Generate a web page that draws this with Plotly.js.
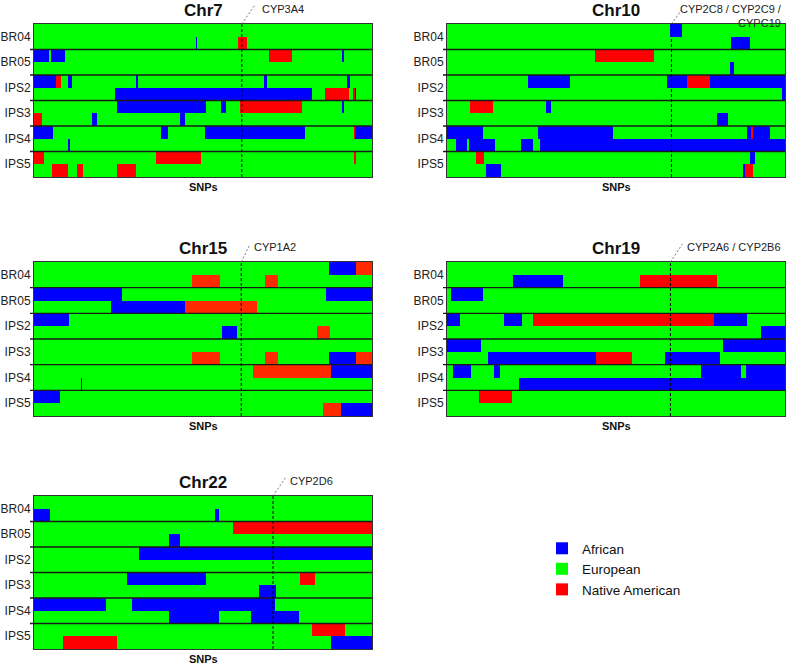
<!DOCTYPE html>
<html><head><meta charset="utf-8">
<script src="https://cdn.plot.ly/plotly-3.0.1.min.js"></script>
<style>html,body{margin:0;padding:0;background:#fff}#chart{width:787px;height:665px}</style>
</head><body><div id="chart"></div>
<script>
// ---------------- data ----------------
const samples = ['BR04', 'BR05', 'IPS2', 'IPS3', 'IPS4', 'IPS5'];
const chromosomes = ['Chr7', 'Chr10', 'Chr15', 'Chr19', 'Chr22'];
const geneLabels = ['CYP3A4', 'CYP2C8 / CYP2C9 /<br>CYPC19', 'CYP1A2', 'CYP2A6 / CYP2B6', 'CYP2D6'];
const genePos = [61.5, 66.4, 61.3, 66.1, 70.7];          // % along SNP axis
const ancestryNames = {AFR: 'African', EUR: 'European', NAT: 'Native American'};
const snpRange = [0, 100];

// segments: [sample, haplotype (1 = top, 2 = bottom), start %, end %, ancestry]; rest is European
const chr7Segments = [
  ['BR04',2,47.8,48.1,'AFR'], ['BR04',2,60.3,63.1,'NAT'],
  ['BR05',1,0,4.4,'AFR'], ['BR05',1,5.0,9.1,'AFR'], ['BR05',1,69.5,76.4,'NAT'], ['BR05',1,91.0,91.8,'AFR'],
  ['IPS2',1,0,6.4,'AFR'], ['IPS2',1,6.4,8.1,'NAT'], ['IPS2',1,10.0,11.2,'AFR'], ['IPS2',1,30.1,30.9,'AFR'], ['IPS2',1,67.9,69.0,'AFR'], ['IPS2',1,92.5,93.5,'AFR'],
  ['IPS2',2,23.9,82.2,'AFR'], ['IPS2',2,86.0,93.1,'NAT'], ['IPS2',2,94.4,95.0,'NAT'], ['IPS2',2,95.0,95.4,'AFR'],
  ['IPS3',1,24.5,50.8,'AFR'], ['IPS3',1,55.4,56.7,'AFR'], ['IPS3',1,60.8,79.2,'NAT'], ['IPS3',1,91.0,91.8,'AFR'],
  ['IPS3',2,0,2.5,'NAT'], ['IPS3',2,17.2,18.5,'AFR'], ['IPS3',2,43.3,44.8,'AFR'],
  ['IPS4',1,0,5.5,'AFR'], ['IPS4',1,37.5,39.5,'AFR'], ['IPS4',1,50.7,80.3,'AFR'], ['IPS4',1,94.7,95.0,'NAT'], ['IPS4',1,95.0,100,'AFR'],
  ['IPS4',2,10.0,10.7,'AFR'],
  ['IPS5',1,0,2.9,'NAT'], ['IPS5',1,36.2,49.5,'NAT'], ['IPS5',1,94.7,95.4,'NAT'],
  ['IPS5',2,5.2,10.0,'NAT'], ['IPS5',2,12.6,14.6,'NAT'], ['IPS5',2,24.5,30.3,'NAT']
];
const chr10Segments = [
  ['BR04',1,66.1,69.5,'AFR'], ['BR04',2,84.0,89.6,'AFR'],
  ['BR05',1,43.8,61.3,'NAT'], ['BR05',2,83.8,84.9,'AFR'],
  ['IPS2',1,24.1,36.4,'AFR'], ['IPS2',1,65.1,71.0,'AFR'], ['IPS2',1,71.0,77.7,'NAT'], ['IPS2',1,77.7,100,'AFR'], ['IPS2',2,99.0,100,'AFR'],
  ['IPS3',1,6.8,13.7,'NAT'], ['IPS3',1,29.2,30.8,'AFR'], ['IPS3',2,80.0,83.0,'AFR'],
  ['IPS4',1,0,10.7,'AFR'], ['IPS4',1,26.8,49.2,'AFR'], ['IPS4',1,88.8,90.0,'AFR'], ['IPS4',1,90.0,90.4,'NAT'], ['IPS4',1,90.4,95.6,'AFR'],
  ['IPS4',2,2.8,5.9,'AFR'], ['IPS4',2,6.4,14.2,'AFR'], ['IPS4',2,21.8,25.4,'AFR'], ['IPS4',2,27.4,100,'AFR'],
  ['IPS5',1,8.7,10.9,'NAT'], ['IPS5',1,89.7,91.1,'AFR'],
  ['IPS5',2,11.6,16.1,'AFR'], ['IPS5',2,87.6,88.2,'AFR'], ['IPS5',2,88.2,90.4,'NAT']
];
const chr15Segments = [
  ['BR04',1,87.3,95.4,'AFR'], ['BR04',1,95.4,100,'NAT'], ['BR04',2,46.7,54.9,'NAT'], ['BR04',2,68.3,72.3,'NAT'],
  ['BR05',1,0,25.9,'AFR'], ['BR05',1,86.3,100,'AFR'], ['BR05',2,22.7,44.8,'AFR'], ['BR05',2,44.8,66.0,'NAT'],
  ['IPS2',1,0,10.4,'AFR'], ['IPS2',2,55.7,60.2,'AFR'], ['IPS2',2,83.8,87.6,'NAT'],
  ['IPS3',2,46.7,54.9,'NAT'], ['IPS3',2,68.3,72.3,'NAT'], ['IPS3',2,87.3,95.4,'AFR'], ['IPS3',2,95.4,100,'NAT'],
  ['IPS4',1,64.8,87.8,'NAT'], ['IPS4',1,87.8,100,'AFR'], ['IPS4',2,13.8,14.2,'AFR'],
  ['IPS5',1,0,7.8,'AFR'], ['IPS5',2,85.5,90.9,'NAT'], ['IPS5',2,90.9,100,'AFR']
];
const chr19Segments = [
  ['BR04',2,19.5,34.4,'AFR'], ['BR04',2,57.2,79.9,'NAT'],
  ['BR05',1,1.3,10.6,'AFR'],
  ['IPS2',1,0,3.9,'AFR'], ['IPS2',1,16.9,22.1,'AFR'], ['IPS2',1,25.3,79.1,'NAT'], ['IPS2',1,79.1,88.9,'AFR'], ['IPS2',2,93.0,100,'AFR'],
  ['IPS3',1,0,10.0,'AFR'], ['IPS3',1,81.6,100,'AFR'], ['IPS3',2,12.0,44.2,'AFR'], ['IPS3',2,44.2,54.8,'NAT'], ['IPS3',2,64.6,80.8,'AFR'],
  ['IPS4',1,1.9,7.2,'AFR'], ['IPS4',1,13.8,15.8,'AFR'], ['IPS4',1,75.2,86.9,'AFR'], ['IPS4',1,88.5,100,'AFR'], ['IPS4',2,21.4,100,'AFR'],
  ['IPS5',1,9.5,19.2,'NAT']
];
const chr22Segments = [
  ['BR04',2,0,4.6,'AFR'], ['BR04',2,53.6,54.6,'AFR'],
  ['BR05',1,58.8,100,'NAT'], ['BR05',2,39.9,43.2,'AFR'],
  ['IPS2',1,31.1,100,'AFR'],
  ['IPS3',1,27.4,51.0,'AFR'], ['IPS3',1,78.7,83.1,'NAT'], ['IPS3',2,66.5,71.7,'AFR'],
  ['IPS4',1,0,21.4,'AFR'], ['IPS4',1,28.9,71.4,'AFR'], ['IPS4',2,39.9,54.8,'AFR'], ['IPS4',2,64.2,78.3,'AFR'],
  ['IPS5',1,82.1,92.0,'NAT'], ['IPS5',2,8.6,24.7,'NAT'], ['IPS5',2,87.8,100,'AFR']
];
const panelSegments = [chr7Segments, chr10Segments, chr15Segments, chr19Segments, chr22Segments];

// ---------------- styles / layout ----------------
const W = 787, H = 665;
const colors = {AFR: '#0000ff', EUR: '#00ff00', NAT: '#ff0000'};
const natColorPerPanel = ['#ff0000', '#ff0000', '#ff2a00', '#ff0000', '#ff0000'];
const panelBoxes = [ // pixel boxes [x0,x1,y0,y1]
  [34, 372, 24, 177], [447, 785, 24, 177],
  [34, 372, 262, 416], [447, 785, 262, 416],
  [34, 372, 496, 649]
];
const leaderDx = [13, 10, 8, 12, 13];
const leaderDy = [19, 14, 16, 18, 19];
const labelShift = [18, 7, 11, 15, 15];
const FONT = 'Liberation Sans, Arial, Helvetica, sans-serif';

const rowY = (s, h) => samples.indexOf(s) * 2 + (h - 1) + 0.5;
const nRows = samples.length * 2;

const data = [];
const layout = {
  width: W, height: H, margin: {l: 0, r: 0, t: 0, b: 0},
  paper_bgcolor: '#fff', plot_bgcolor: '#fff',
  barmode: 'overlay', bargap: 0,
  showlegend: true,
  legend: {x: 542 / W, y: 1 - 533 / H, xanchor: 'left', yanchor: 'top',
           font: {family: FONT, size: 13.5, color: '#111'}, bgcolor: 'rgba(0,0,0,0)',
           itemclick: false, traceorder: 'normal'},
  shapes: [], annotations: [],
  font: {family: FONT}
};

panelSegments.forEach((segs, p) => {
  const n = p === 0 ? '' : String(p + 1);
  const xa = 'x' + n, ya = 'y' + n;
  const box = panelBoxes[p];
  layout['xaxis' + n] = {
    domain: [box[0] / W, box[1] / W], range: snpRange, anchor: ya,
    showticklabels: false, ticks: '', showgrid: false, zeroline: false,
    showline: true, mirror: true, linecolor: '#333', linewidth: 1, fixedrange: true
  };
  layout['yaxis' + n] = {
    domain: [1 - box[3] / H, 1 - box[2] / H], range: [nRows, 0], anchor: xa,
    tickvals: samples.map((s, i) => i * 2 + 1), ticktext: samples,
    tickfont: {family: FONT, size: 12, color: '#222'}, ticks: '',
    showgrid: false, zeroline: false, showline: true, mirror: true,
    linecolor: '#333', linewidth: 1, fixedrange: true, automargin: false
  };

  // European background for every haplotype row
  const allRows = [];
  samples.forEach(s => { allRows.push(rowY(s, 1)); allRows.push(rowY(s, 2)); });
  data.push({
    type: 'bar', orientation: 'h', xaxis: xa, yaxis: ya,
    y: allRows, base: allRows.map(() => snpRange[0]), x: allRows.map(() => snpRange[1] - snpRange[0]),
    width: 1, marker: {color: colors.EUR, line: {width: 0}},
    name: ancestryNames.EUR, legendrank: 2, showlegend: p === 0, hoverinfo: 'skip'
  });
  ['AFR', 'NAT'].forEach(a => {
    const sel = segs.filter(r => r[4] === a);
    data.push({
      type: 'bar', orientation: 'h', xaxis: xa, yaxis: ya,
      y: sel.map(r => rowY(r[0], r[1])),
      base: sel.map(r => r[2]),
      x: sel.map(r => r[3] - r[2]),
      width: 1,
      marker: {color: a === 'NAT' ? natColorPerPanel[p] : colors[a], line: {width: 0}},
      name: ancestryNames[a], legendrank: a === 'AFR' ? 1 : 3,
      showlegend: p === 0, hoverinfo: 'skip'
    });
  });

  // sample separators
  for (let k = 1; k < samples.length; k++) {
    layout.shapes.push({type: 'line', xref: xa + ' domain', yref: ya,
      x0: -4 / (box[1] - box[0]), x1: 1, y0: 2 * k, y1: 2 * k,
      line: {color: '#1a1a1a', width: 1.3}});
  }
  // gene marker
  layout.shapes.push({type: 'line', xref: xa, yref: ya + ' domain',
    x0: genePos[p], x1: genePos[p], y0: 0, y1: 1,
    line: {color: '#000', width: 1, dash: '3px,2px'}});
  layout.shapes.push({type: 'line', xref: xa, yref: ya + ' domain',
    xsizemode: 'pixel', xanchor: genePos[p], x0: 0, x1: leaderDx[p],
    ysizemode: 'pixel', yanchor: 1, y0: 0, y1: leaderDy[p],
    line: {color: '#555', width: 0.8, dash: '2px,2px'}});

  // titles and labels
  layout.annotations.push({xref: xa + ' domain', yref: ya + ' domain', x: 0.5, y: 1,
    xanchor: 'center', yanchor: 'bottom', yshift: 2, showarrow: false,
    text: '<b>' + chromosomes[p] + '</b>', font: {family: FONT, size: 17, color: '#111'}});
  layout.annotations.push({xref: xa + ' domain', yref: ya + ' domain', x: 0.5, y: 0,
    xanchor: 'center', yanchor: 'top', yshift: -2, showarrow: false,
    text: '<b>SNPs</b>', font: {family: FONT, size: 11, color: '#111'}});
  layout.annotations.push({xref: xa, yref: ya + ' domain', x: genePos[p], y: 1,
    xanchor: 'left', yanchor: 'top', xshift: labelShift[p], yshift: 23, align: 'right',
    showarrow: false, text: geneLabels[p], font: {family: FONT, size: 11, color: '#222'}});
});

Plotly.newPlot('chart', data, layout, {staticPlot: true, displayModeBar: false});
</script>
</body></html>
